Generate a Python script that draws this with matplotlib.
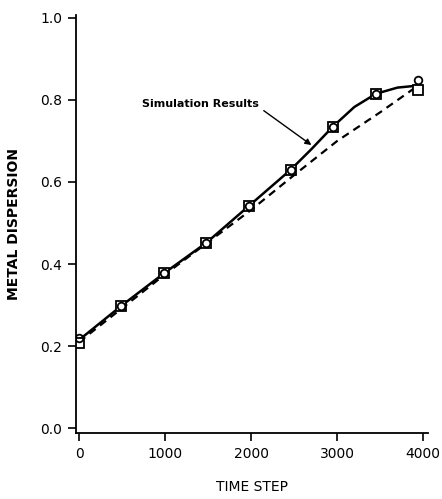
import matplotlib
matplotlib.use("Agg")
import matplotlib.pyplot as plt

# Data
time_pts = [0, 490, 990, 1480, 1970, 2460, 2950, 3450, 3940]
square_vals = [0.207, 0.298, 0.378, 0.452, 0.541, 0.630, 0.735, 0.815, 0.824]
circle_vals = [0.220, 0.298, 0.378, 0.452, 0.541, 0.630, 0.735, 0.815, 0.849]

# Simulation result curve (solid), sampled along the drawn curve
sim_x = [0, 490, 990, 1480, 1970, 2460, 2700, 2950, 3200, 3450, 3700, 3940]
sim_y = [0.215, 0.298, 0.378, 0.452, 0.541, 0.630, 0.680, 0.735, 0.783, 0.815, 0.830, 0.835]

# Dashed comparison line
dash_x = [0, 1000, 2000, 2500, 3000, 3500, 3920]
dash_y = [0.210, 0.375, 0.532, 0.617, 0.700, 0.770, 0.832]

x_ticks = [0, 1000, 2000, 3000, 4000]
x_ticklabels = ["0", "1000", "2000", "3000", "4000"]
y_ticks = [0.0, 0.2, 0.4, 0.6, 0.8, 1.0]
y_ticklabels = ["0.0", "0.2", "0.4", "0.6", "0.8", "1.0"]

plt.rcParams['font.family'] = ['DejaVu Sans']

fig = plt.figure(figsize=(4.42, 4.99), dpi=100)
ax = fig.add_axes([0.172, 0.132, 0.796, 0.838])

ax.plot(sim_x, sim_y, color='black', lw=1.8, solid_capstyle='round',
        solid_joinstyle='round')
ax.plot(dash_x, dash_y, color='black', lw=1.6, ls=(0, (3.5, 2.5)))
ax.plot(time_pts, square_vals, ls='none', marker='s', ms=6.5, mfc='white',
        mec='black', mew=1.3)
ax.plot(time_pts, circle_vals, ls='none', marker='o', ms=5.5, mfc='none',
        mec='black', mew=1.3)

ax.annotate("Simulation Results", xy=(2700, 0.69), xytext=(730, 0.79),
            fontsize=8, fontweight='bold', va='center', ha='left',
            arrowprops=dict(arrowstyle='-|>', color='black', lw=1.0,
                            mutation_scale=9, shrinkA=2, shrinkB=0,
                            relpos=(1.0, 0.2)))

ax.set_xlim(-35, 4053)
ax.set_ylim(-0.012, 1.007)
ax.set_xticks(x_ticks)
ax.set_xticklabels(x_ticklabels)
ax.set_yticks(y_ticks)
ax.set_yticklabels(y_ticklabels)
for s in ['top', 'right']:
    ax.spines[s].set_visible(False)
for s in ['left', 'bottom']:
    ax.spines[s].set_linewidth(1.3)
ax.tick_params(direction='out', length=6, width=1.2, labelsize=10, pad=4)

ax.set_xlabel("TIME STEP", fontsize=10, labelpad=14)
ax.set_ylabel("METAL DISPERSION", fontsize=10, fontweight='bold', labelpad=14)

fig.savefig("out.png", dpi=100)
